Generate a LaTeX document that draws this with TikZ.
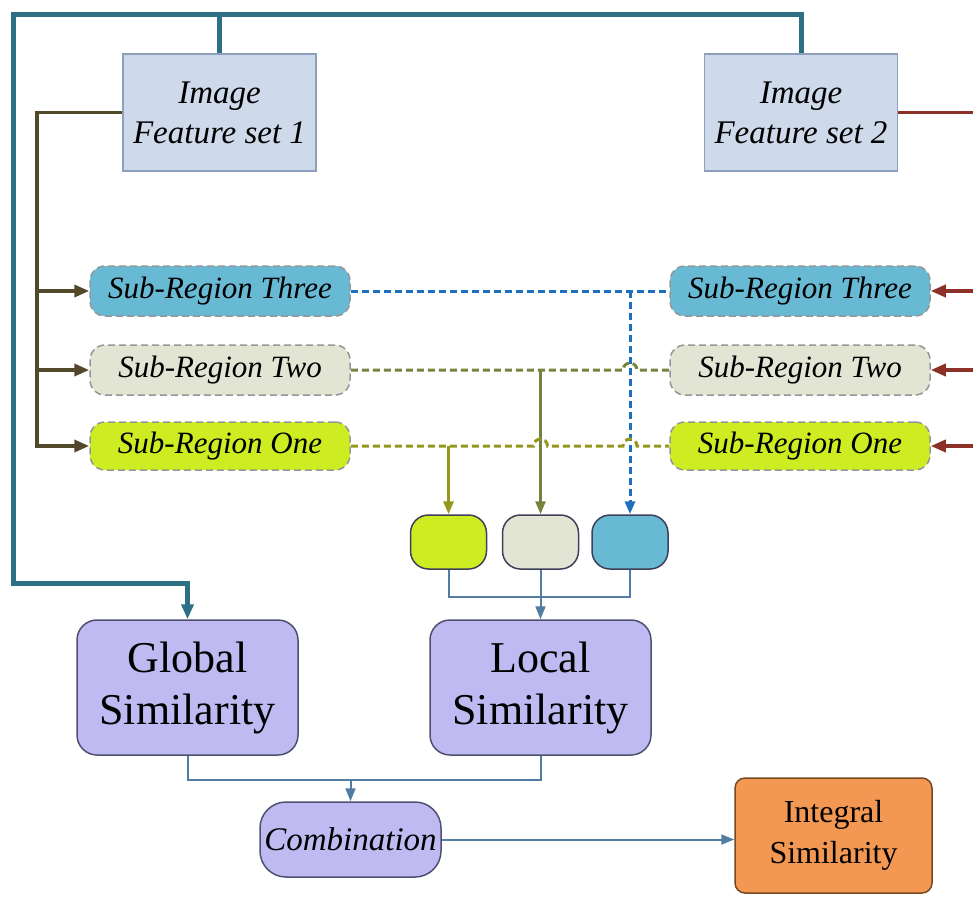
\documentclass[tikz,border=0pt]{standalone}
\usepackage{fontspec}
\setmainfont{Liberation Serif}
\usetikzlibrary{arrows.meta}

\definecolor{featfill}{RGB}{206,217,234}
\definecolor{featline}{RGB}{140,160,190}
\definecolor{tealline}{RGB}{45,112,132}
\definecolor{brownline}{RGB}{82,72,42}
\definecolor{redline}{RGB}{140,48,40}
\definecolor{regline}{RGB}{150,150,150}
\definecolor{threefill}{RGB}{104,186,212}
\definecolor{twofill}{RGB}{226,229,212}
\definecolor{onefill}{RGB}{206,236,34}
\definecolor{threeline}{RGB}{30,112,190}
\definecolor{twoline}{RGB}{118,130,62}
\definecolor{oneline}{RGB}{150,150,30}
\definecolor{simfill}{RGB}{192,186,242}
\definecolor{simline}{RGB}{78,80,112}
\definecolor{intfill}{RGB}{242,152,82}
\definecolor{intline}{RGB}{120,72,32}
\definecolor{joinline}{RGB}{82,124,162}

\tikzset{
  feat/.style={draw=featline, fill=featfill, line width=1.5pt, minimum width=193pt,
    minimum height=117pt, align=center, font=\fontsize{33}{40}\selectfont\itshape},
  region/.style={draw=regline, dashed, dash pattern=on 7pt off 4pt, line width=1.5pt,
    rounded corners=15pt, minimum width=260pt, minimum height=50pt,
    font=\fontsize{31}{34}\selectfont\itshape},
  small/.style={draw=simline!80!black, line width=1.5pt, rounded corners=18pt,
    minimum width=76pt, minimum height=54pt},
  sim/.style={draw=simline, fill=simfill, line width=1.5pt, rounded corners=20pt,
    minimum width=221pt, minimum height=135pt, align=center,
    font=\fontsize{44}{52}\selectfont},
  arr/.style={-{Triangle[length=15pt,width=12pt]}},
  sarr/.style={-{Triangle[length=13pt,width=10pt]}},
  dline/.style={dashed, dash pattern=on 7pt off 4pt, line width=3pt}
}

\begin{document}
\begin{tikzpicture}[x=1pt, y=-1pt]
  \useasboundingbox (0,0) rectangle (973,896);

  % image features
  \node[feat] (feat1) at (219.5,112.5) {Image\\Feature set 1};
  \node[feat] (feat2) at (801,112.5) {Image\\Feature set 2};

  % sub regions, left and right
  \node[region, fill=threefill] (L3) at (220,291) {Sub-Region Three};
  \node[region, fill=twofill] (L2) at (220,370) {Sub-Region Two};
  \node[region, fill=onefill, minimum height=48pt] (L1) at (220,446) {Sub-Region One};
  \node[region, fill=threefill] (R3) at (800,291) {Sub-Region Three};
  \node[region, fill=twofill] (R2) at (800,370) {Sub-Region Two};
  \node[region, fill=onefill, minimum height=48pt] (R1) at (800,446) {Sub-Region One};

  % per region similarities
  \node[small, fill=onefill] (s1) at (448.5,542) {};
  \node[small, fill=twofill] (s2) at (540.5,542) {};
  \node[small, fill=threefill] (s3) at (630,542) {};

  \node[sim] (glob) at (187.5,687.5) {Global\\Similarity};
  \node[sim] (loc) at (540.5,687.5) {Local\\Similarity};
  \node[draw=simline, fill=simfill, line width=1.5pt, rounded corners=26pt,
    minimum width=181pt, minimum height=75pt, font=\fontsize{33}{40}\selectfont\itshape]
    (comb) at (350.5,839.5) {Combination};
  \node[draw=intline, fill=intfill, line width=1.5pt, rounded corners=10pt,
    minimum width=197pt, minimum height=115pt, align=center,
    font=\fontsize{32}{41}\selectfont] (integ) at (833.5,835.5) {Integral\\Similarity};

  \coordinate (topleft) at (13,15);
  \coordinate (gturn) at (13,583);
  \coordinate (bl) at (37,112.5);
  \coordinate (rr) at (976,112.5);
  \coordinate (lj) at (540.5,597);
  \coordinate (cj) at (350.5,780);

  % global path
  \draw[tealline, line width=5pt] (feat1.north) -- (feat1.north |- topleft);
  \draw[tealline, line width=5pt, arr] (feat2.north) |- (topleft) -- (gturn) -| (glob.north);

  % feature set 1 to regions
  \draw[brownline, line width=3.5pt, arr] (feat1.west) -- (bl) |- (L1.west);
  \draw[brownline, line width=3.5pt, arr] (bl |- L2) -- (L2.west);
  \draw[brownline, line width=3.5pt, arr] (bl |- L3) -- (L3.west);

  % feature set 2 to regions
  \draw[redline, line width=3.5pt] (feat2.east) -- (rr) -- (rr |- R1);
  \draw[redline, line width=3.5pt, arr] (rr |- R3) -- (R3.east);
  \draw[redline, line width=3.5pt, arr] (rr |- R2) -- (R2.east);
  \draw[redline, line width=3.5pt, arr] (rr |- R1) -- (R1.east);

  % region pairs
  \draw[dline, threeline] (L3.east) -- (R3.west);
  \draw[dline, threeline, sarr] (s3.north |- L3) -- (s3.north);
  \draw[dline, twoline] (L2.east) -- ([xshift=-7pt]s3.north |- L2)
    arc[start angle=180, end angle=0, radius=7pt] -- (R2.west);
  \draw[twoline, line width=2.5pt, sarr] (s2.north |- L2) -- (s2.north);
  \draw[dline, oneline] (L1.east) -- ([xshift=-7pt]s2.north |- L1)
    arc[start angle=180, end angle=0, radius=7pt] -- ([xshift=-7pt]s3.north |- L1)
    arc[start angle=180, end angle=0, radius=7pt] -- (R1.west);
  \draw[oneline, line width=3pt, sarr] (s1.north |- L1) -- (s1.north);

  % joining
  \draw[joinline, line width=2pt] (s1.south) |- (lj) -| (s3.south);
  \draw[joinline, line width=2pt, sarr] (s2.south) -- (loc.north);
  \draw[joinline, line width=2pt] (glob.south) |- (cj) -| (loc.south);
  \draw[joinline, line width=2pt, sarr] (cj) -- (comb.north);
  \draw[joinline, line width=2pt, sarr] (comb.east) -- (comb.east -| integ.west);
\end{tikzpicture}
\end{document}
